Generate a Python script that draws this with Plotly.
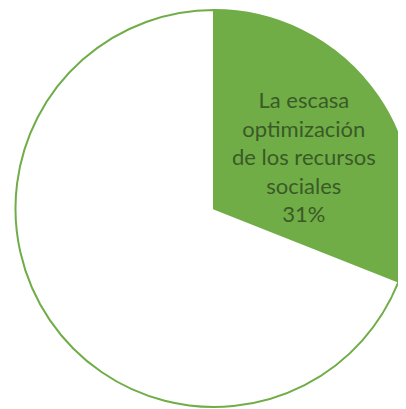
import plotly.graph_objects as go

labels = ["La escasa<br>optimización<br>de los recursos<br>sociales", "Otros"]
values = [31, 69]
colors = ["#70AD47", "#FFFFFF"]
templates = ["<span style='font-size:12px'> </span><br>%{label}<br>%{percent:.0%}", ""]

fig = go.Figure(go.Pie(
    labels=labels,
    values=values,
    sort=False,
    direction="clockwise",
    rotation=0,
    marker=dict(colors=colors, line=dict(color="#70AD47", width=2)),
    texttemplate=templates,
    textposition="inside",
    insidetextorientation="horizontal",
    insidetextfont=dict(family="Lato", size=22, color="#3A5A26"),
    hoverinfo="label+percent",
    showlegend=False,
    domain=dict(x=[6/406, 1], y=[10/409, 407/409]),
))
fig.update_layout(
    width=406, height=409,
    margin=dict(l=0, r=0, t=0, b=0),
    paper_bgcolor="white",
    plot_bgcolor="white",
    uniformtext=dict(minsize=22, mode="show"),
)
fig.write_html("out.html")
